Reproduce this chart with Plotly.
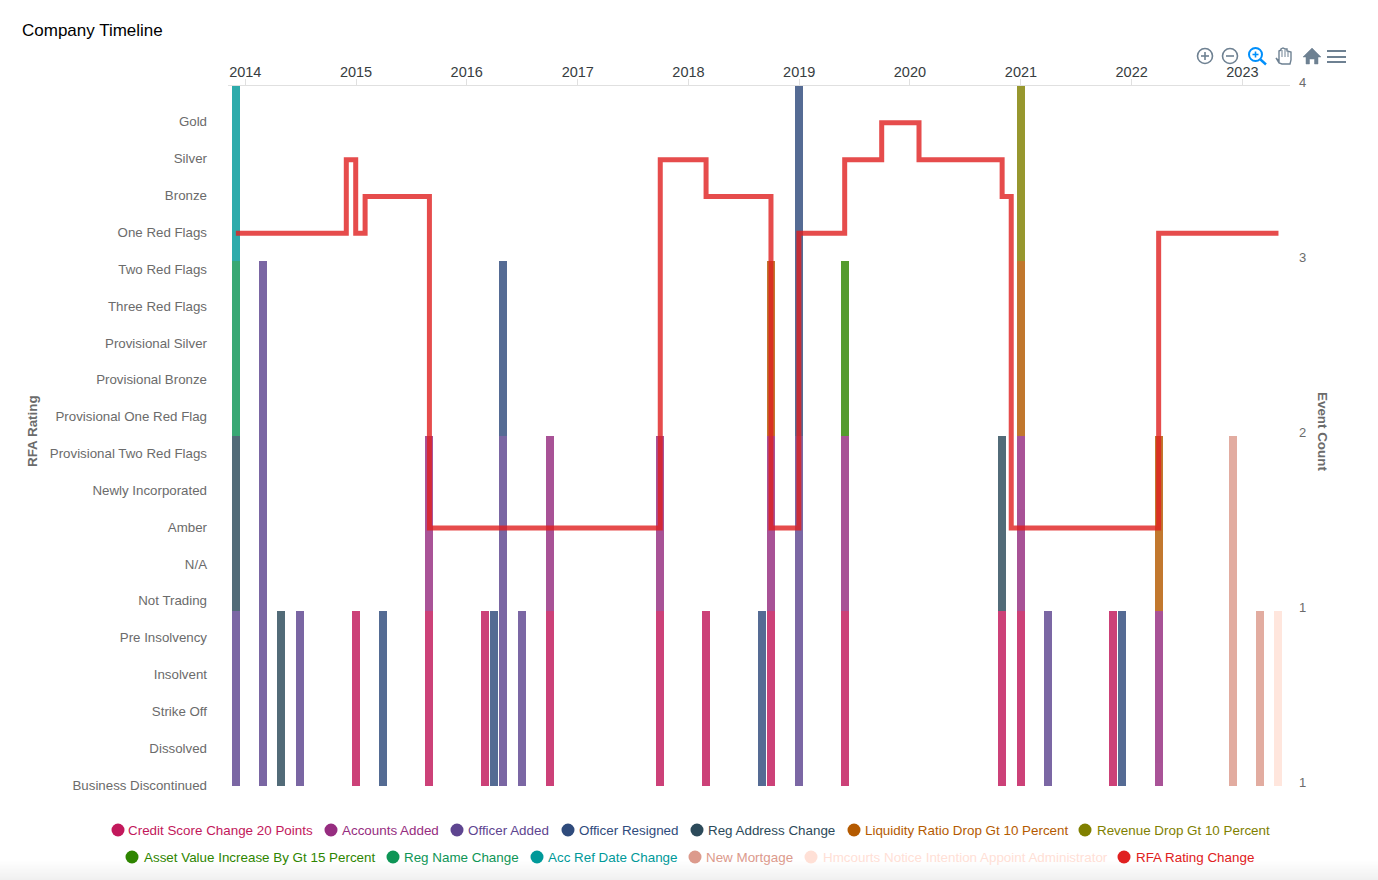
import plotly.graph_objects as go

TITLE = "Company Timeline"
RATINGS = ["Business Discontinued", "Dissolved", "Strike Off", "Insolvent", "Pre Insolvency",
           "Not Trading", "N/A", "Amber", "Newly Incorporated", "Provisional Two Red Flags",
           "Provisional One Red Flag", "Provisional Bronze", "Provisional Silver",
           "Three Red Flags", "Two Red Flags", "One Red Flags", "Bronze", "Silver", "Gold"]

credit_x = ["2014-12-31", "2015-08-31", "2016-03-01", "2016-09-30", "2017-09-30", "2018-02-28",
            "2018-09-30", "2019-05-31", "2020-10-31", "2020-12-31", "2021-10-31"]
credit_y = [1] * 11
accounts_x = ["2015-08-31", "2016-09-30", "2017-09-30", "2018-09-30", "2019-05-31", "2020-12-31", "2022-03-31"]
accounts_y = [1] * 7
officer_added_x = ["2013-12-01", "2014-03-01", "2014-06-30", "2016-04-30", "2016-06-30", "2018-12-31", "2021-03-31"]
officer_added_y = [1, 3, 1, 2, 1, 2, 1]
officer_resigned_x = ["2015-03-31", "2016-03-31", "2016-04-30", "2018-08-31", "2018-12-31", "2021-11-30"]
officer_resigned_y = [1, 1, 1, 1, 2, 1]
reg_address_x = ["2013-12-01", "2014-04-30", "2020-10-31"]
reg_address_y = [1, 1, 1]
liquidity_x = ["2018-09-30", "2020-12-31", "2022-03-31"]
liquidity_y = [1, 1, 1]
revenue_x = ["2020-12-31"]
revenue_y = [1]
asset_x = ["2019-05-31"]
asset_y = [1]
reg_name_x = ["2013-12-01"]
reg_name_y = [1]
acc_ref_x = ["2013-12-01"]
acc_ref_y = [1]
mortgage_x = ["2022-11-30", "2023-02-28"]
mortgage_y = [2, 1]
hmcourts_x = ["2023-04-30"]
hmcourts_y = [1]

rfa_x = ["2013-12-01", "2014-11-30", "2014-12-31", "2015-01-31", "2015-08-31", "2017-09-30",
         "2018-02-28", "2018-09-30", "2018-12-31", "2019-05-31", "2019-09-30", "2020-01-31",
         "2020-10-31", "2020-11-30", "2022-03-31", "2023-04-30"]
rfa_y = ["One Red Flags", "Silver", "One Red Flags", "Bronze", "Amber", "Silver", "Bronze", "Amber",
         "One Red Flags", "Silver", "Gold", "Silver", "Bronze", "Amber", "One Red Flags", "One Red Flags"]

SERIES = [
    ("Credit Score Change 20 Points", credit_x, credit_y, "#C2185B"),
    ("Accounts Added", accounts_x, accounts_y, "#962D80"),
    ("Officer Added", officer_added_x, officer_added_y, "#5E4590"),
    ("Officer Resigned", officer_resigned_x, officer_resigned_y, "#2F4B7C"),
    ("Reg Address Change", reg_address_x, reg_address_y, "#2C4A5A"),
    ("Liquidity Ratio Drop Gt 10 Percent", liquidity_x, liquidity_y, "#B45A00"),
    ("Revenue Drop Gt 10 Percent", revenue_x, revenue_y, "#808000"),
    ("Asset Value Increase By Gt 15 Percent", asset_x, asset_y, "#2E8500"),
    ("Reg Name Change", reg_name_x, reg_name_y, "#0E9556"),
    ("Acc Ref Date Change", acc_ref_x, acc_ref_y, "#009999"),
    ("New Mortgage", mortgage_x, mortgage_y, "#DC9A8C"),
    ("Hmcourts Notice Intention Appoint Administrator", hmcourts_x, hmcourts_y, "#FFE0D6"),
]
RFA_NAME = "RFA Rating Change"
RFA_COLOR = "#E02020"

# legend layout: (marker centre px, text start px, row y px)
LEGEND_POS = [(118, 128, 830), (331, 342, 830), (457, 468, 830), (568, 579, 830), (697, 708, 830),
              (854, 865, 830), (1085, 1097, 830), (132, 144, 857), (393, 404, 857), (537, 548, 857),
              (695, 706, 857), (811, 823, 857), (1124, 1136, 857)]

L, R, T, B = 228, 1290, 86, 786
W, H = 1378, 880
def fx(p): return (p - L) / (R - L)
def fy(p): return (B - p) / (B - T)

BAR_MS = 8 / 110.8 * 365.25 * 86400000
FONT = "Liberation Sans, Helvetica, Arial, sans-serif"
GREY = "#6B6B6B"

fig = go.Figure()
for name, xs, ys, col in SERIES:
    fig.add_trace(go.Bar(x=xs, y=ys, name=name, width=[BAR_MS] * len(xs), marker_color=col,
                         marker_line_width=0, opacity=0.82, showlegend=False))
fig.add_trace(go.Scatter(x=rfa_x, y=[RATINGS.index(v) for v in rfa_y], name=RFA_NAME, yaxis="y2",
                         mode="lines", line=dict(color=RFA_COLOR, width=5, shape="hv"),
                         opacity=0.8, showlegend=False))

shapes, annotations = [], []
all_names = [s[0] for s in SERIES] + [RFA_NAME]
all_cols = [s[3] for s in SERIES] + [RFA_COLOR]
for (name, col, (mx, tx, py)) in zip(all_names, all_cols, LEGEND_POS):
    shapes.append(dict(type="circle", xref="paper", yref="paper", xsizemode="pixel", ysizemode="pixel",
                       xanchor=fx(mx), yanchor=fy(py), x0=-6.5, x1=6.5, y0=-6.5, y1=6.5,
                       fillcolor=col, line_width=0))
    annotations.append(dict(text=name, xref="paper", yref="paper", x=fx(tx), y=fy(py), xanchor="left",
                            yanchor="middle", showarrow=False, font=dict(size=13.4, color=col, family=FONT),
                            borderpad=0, borderwidth=0))

annotations.append(dict(text=TITLE, xref="paper", yref="paper", x=fx(20), y=fy(30.5), xanchor="left",
                        yanchor="middle", showarrow=False, font=dict(size=17, color="#000000", family=FONT)))
annotations.append(dict(text="<b>RFA Rating</b>", xref="paper", yref="paper", x=fx(32), y=fy(431),
                        xanchor="center", yanchor="middle",
                        textangle=-90, showarrow=False, font=dict(size=13.4, color=GREY, family=FONT)))
annotations.append(dict(text="<b>Event Count</b>", xref="paper", yref="paper", x=fx(1323), y=fy(431),
                        xanchor="center", yanchor="middle",
                        textangle=90, showarrow=False, font=dict(size=13.4, color=GREY, family=FONT)))

# toolbar icons
ICON = "#6E8192"
def circ(cx, cy, r, color=ICON, w=1.6):
    shapes.append(dict(type="circle", xref="paper", yref="paper", x0=fx(cx - r), x1=fx(cx + r),
                       y0=fy(cy + r), y1=fy(cy - r), line=dict(color=color, width=w)))
def seg(x0, y0, x1, y1, color=ICON, w=1.6):
    shapes.append(dict(type="line", xref="paper", yref="paper", x0=fx(x0), x1=fx(x1),
                       y0=fy(y0), y1=fy(y1), line=dict(color=color, width=w)))
def poly(pts, fill=None, color=ICON, w=1.2):
    d = "M " + " L ".join(f"{fx(a):.5f},{fy(b):.5f}" for a, b in pts) + " Z"
    shapes.append(dict(type="path", xref="paper", yref="paper", path=d,
                       fillcolor=fill if fill else "rgba(0,0,0,0)", line=dict(color=color, width=w)))
circ(1205, 56, 7.5); seg(1201, 56, 1209, 56); seg(1205, 52, 1205, 60)
circ(1230, 56, 7.5); seg(1226, 56, 1234, 56)
BLUE = "#008FFB"
circ(1255.5, 54.5, 6.5, BLUE, 2); seg(1252.5, 54.5, 1258.5, 54.5, BLUE); seg(1255.5, 51.5, 1255.5, 57.5, BLUE)
seg(1260.5, 59.5, 1266, 64.5, BLUE, 2.4)
poly([(1276, 58), (1279, 61), (1279, 51), (1281, 50), (1281, 49), (1283, 48), (1285, 49), (1287, 49),
      (1287, 51), (1291, 52), (1291, 60), (1290, 64), (1282, 64), (1279, 63)], w=1.4)
seg(1282, 50, 1282, 57, w=1); seg(1285, 50, 1285, 57, w=1); seg(1288, 52, 1288, 57, w=1)
poly([(1312, 48), (1321, 57), (1318, 57), (1318, 64), (1314.5, 64), (1314.5, 59), (1309.5, 59), (1309.5, 64),
      (1306, 64), (1306, 57), (1303, 57)], fill=ICON, w=0.5)
for yy in (51, 57, 62):
    seg(1327, yy, 1346, yy, w=2)

# faint grey fade along the bottom edge of the page
for i in range(20):
    shapes.append(dict(type="rect", xref="paper", yref="paper", x0=fx(0), x1=fx(W),
                       y0=fy(860 + i), y1=fy(861 + i), fillcolor=f"rgba(0,0,0,{0.003 * i:.3f})",
                       line_width=0, layer="below"))

fig.update_layout(
    width=W, height=H, autosize=False, margin=dict(l=L, r=W - R, t=T, b=H - B),
    paper_bgcolor="white", plot_bgcolor="white", barmode="stack", bargap=0,
    showlegend=False, font=dict(family=FONT), shapes=shapes, annotations=annotations,
    xaxis=dict(type="date", side="top", range=["2013-11-05", "2023-06-07"], tick0="2014-01-01", dtick="M12",
               tickformat="%Y", tickfont=dict(size=14.5, color="#373D3F"), showgrid=False, showline=True,
               linecolor="#E0E0E0", linewidth=1, ticks="outside", ticklen=6, tickcolor="#E0E0E0",
               ticklabelstandoff=-4, zeroline=False),
    yaxis=dict(side="right", range=[0, 4], tickvals=[0, 1, 2, 3, 4], ticktext=["1", "1", "2", "3", "4"],
               tickfont=dict(size=13, color=GREY), showgrid=False, zeroline=False, showline=False,
               ticks="", ticklabelshift=-4, ticklabelstandoff=8),
    yaxis2=dict(side="left", overlaying="y", range=[0, 19], tickvals=list(range(len(RATINGS))), ticktext=RATINGS,
                tickfont=dict(size=13.3, color=GREY), showgrid=False, zeroline=False, showline=False,
                ticks="", ticklabelshift=-1, ticklabelstandoff=20),
)
fig.write_html("out.html", config=dict(displayModeBar=False),
               post_script="document.body.style.margin='0';")
